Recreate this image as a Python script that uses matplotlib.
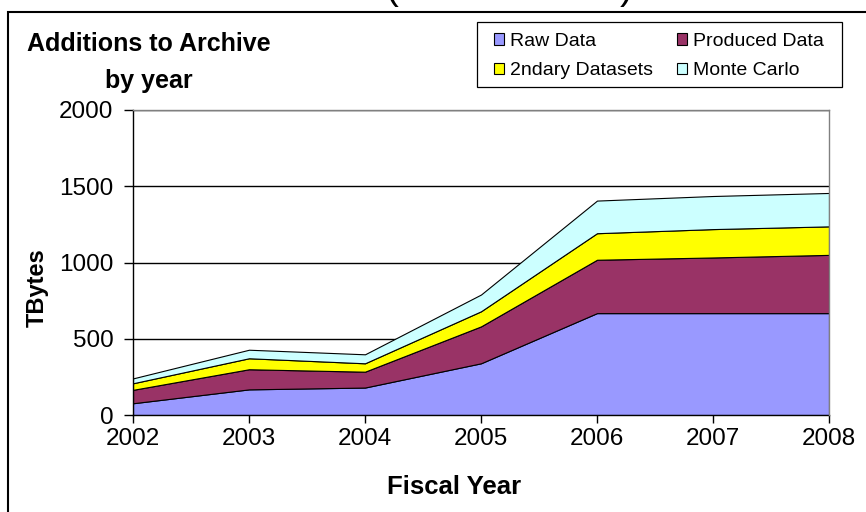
import matplotlib
matplotlib.use("Agg")
import matplotlib.pyplot as plt
from matplotlib.patches import Rectangle, Patch

plt.rcParams['font.family'] = ['Liberation Sans', 'DejaVu Sans']

# Archive additions per fiscal year, in TBytes (stacked)
years = [2002, 2003, 2004, 2005, 2006, 2007, 2008]
raw_data = [77, 168, 180, 339, 668, 668, 668]
produced_data = [88, 132, 104, 242, 350, 365, 382]
secondary_datasets = [43, 72, 55, 99, 174, 186, 187]
monte_carlo = [32, 56, 59, 110, 214, 217, 219]

series_labels = ["Raw Data", "Produced Data", "2ndary Datasets", "Monte Carlo"]
series_colors = ["#9999FF", "#993366", "#FFFF00", "#CCFFFF"]
y_ticks = [0, 500, 1000, 1500, 2000]

W, H = 866, 512


def fx(px):
    return px / W


def fy(py):
    return 1 - py / H


fig = plt.figure(figsize=(W / 100, H / 100), dpi=100)
fig.patch.set_facecolor("white")

# outer chart frame (runs off the right and bottom edges)
fig.add_artist(Rectangle((fx(8), -0.2), 1.5, fy(12) + 0.2, transform=fig.transFigure,
                         fill=False, edgecolor="black", linewidth=1.5))

# bottoms of the slide heading above the chart
fig.text(fx(386), fy(-1), "(", fontsize=28, va="baseline", ha="left")
fig.text(fx(620), fy(-1), ")", fontsize=28, va="baseline", ha="left")

ax = fig.add_axes([fx(133), fy(415), fx(829) - fx(133), fy(110) - fy(415)])

ax.stackplot(years, raw_data, produced_data, secondary_datasets, monte_carlo,
             colors=series_colors, edgecolor="black", linewidth=0.8, zorder=2)

ax.set_xlim(years[0], years[-1])
ax.set_ylim(y_ticks[0], y_ticks[-1])
ax.set_xticks(years)
ax.set_yticks(y_ticks)
ax.set_axisbelow(True)
ax.yaxis.grid(True, color="black", linewidth=1)
ax.xaxis.grid(False)

for side in ("left", "bottom"):
    ax.spines[side].set_color("black")
    ax.spines[side].set_linewidth(1)
for side in ("top", "right"):
    ax.spines[side].set_color("#808080")
    ax.spines[side].set_linewidth(1)
    ax.spines[side].set_zorder(3)

ax.tick_params(axis="y", direction="out", length=6.5, width=1, pad=7.5, labelsize=17.5)
ax.tick_params(axis="x", direction="out", length=6, width=1, pad=3.5, labelsize=17.5)

# titles and axis labels
fig.text(fx(149), fy(51), "Additions to Archive", fontsize=18, fontweight="bold",
         ha="center", va="baseline")
fig.text(fx(149), fy(88), "by year", fontsize=18, fontweight="bold",
         ha="center", va="baseline")
fig.text(fx(454), fy(487), "Fiscal Year", fontsize=18.5, fontweight="bold",
         ha="center", va="center")
fig.text(fx(37), fy(288), "TBytes", fontsize=17, fontweight="bold",
         ha="center", va="center", rotation=90)

# legend: framed box with two columns of entries
fig.add_artist(Rectangle((fx(477), fy(87)), fx(842) - fx(477), fy(22) - fy(87),
                         transform=fig.transFigure, fill=True, facecolor="white",
                         edgecolor="black", linewidth=0.9))
handles = [Patch(facecolor=c, edgecolor="black", linewidth=0.8) for c in series_colors]
order = [0, 2, 1, 3]
fig.legend([handles[i] for i in order], [series_labels[i] for i in order],
           loc="upper left", bbox_to_anchor=(fx(494), fy(33)), ncol=2,
           frameon=False, borderpad=0, borderaxespad=0, fontsize=14,
           handlelength=0.51, handleheight=0.51, handletextpad=0.3,
           columnspacing=1.25, labelspacing=0.62)

fig.savefig("out.png", dpi=100)
